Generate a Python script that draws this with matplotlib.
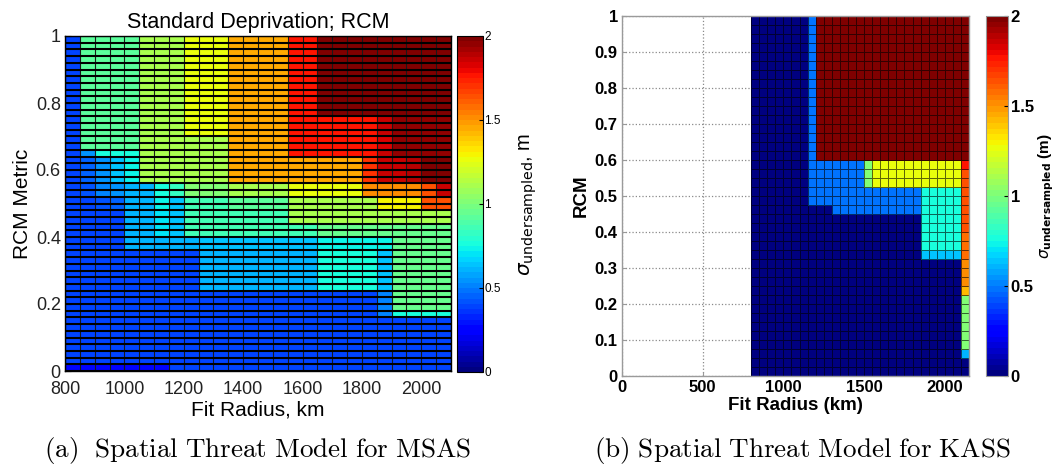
import numpy as np
import matplotlib
matplotlib.use('Agg')
import matplotlib.pyplot as plt

plt.rcParams['font.family'] = ['Liberation Sans', 'DejaVu Sans']

# ---------------- data: left panel (MSAS) ----------------
left_x_edges = np.arange(800, 2101, 50)          # fit radius, km (26 cells)
left_y_edges = np.linspace(0, 1, 51)             # RCM metric (50 cells)
# bands from bottom: (number of rows, 26 column values)
left_bands = [
    (1,  [0.25]*7 + [0.38]*19),
    (7,  [0.38]*26),
    (1,  [0.40]*21 + [0.50] + [0.75]*4),
    (3,  [0.40]*21 + [0.50] + [0.95]*4),
    (6,  [0.40]*9 + [0.62]*8 + [0.75]*4 + [0.65] + [0.95]*4),
    (2,  [0.40]*4 + [0.62]*5 + [0.65]*8 + [0.72]*5 + [0.95]*4),
    (2,  [0.40]*4 + [0.62, 0.62, 0.70, 0.65] + [0.85]*9 + [0.95]*9),
    (2,  [0.40]*4 + [0.62, 0.62, 0.70, 0.65] + [0.85]*7 + [1.12]*11),
    (2,  [0.40, 0.40, 0.42, 0.45, 0.62, 0.62, 0.72, 0.65] + [0.85]*3 + [0.93]*4
         + [1.12]*6 + [1.30]*3 + [1.65]*2),
    (2,  [0.40, 0.42, 0.50, 0.55, 0.62, 0.62, 0.75, 0.82] + [1.0]*3 + [1.1]*4
         + [1.25]*5 + [1.50]*4 + [1.65, 1.85]),
    (4,  [0.40, 0.45, 0.55, 0.65, 0.72] + [1.1]*3 + [1.12]*3 + [1.45]*9 + [1.70]
         + [1.85, 1.85, 1.90] + [1.98]*2),
    (1,  [0.40, 0.55, 0.75, 0.75, 0.75] + [1.1]*3 + [1.12]*3 + [1.45]*4 + [1.75]*6
         + [1.85] + [1.95]*4),
    (2,  [0.40] + [0.93]*4 + [1.1]*3 + [1.12]*3 + [1.45]*4 + [1.75]*6 + [1.82] + [1.95]*4),
    (3,  [0.40] + [0.93]*4 + [1.1]*3 + [1.25]*3 + [1.45]*4 + [1.75]*6 + [1.85] + [1.95]*4),
    (12, [0.40] + [0.93]*4 + [1.1]*3 + [1.25]*3 + [1.45]*4 + [1.75]*2 + [1.98]*9),
]

# ---------------- data: right panel (KASS) ----------------
right_x_edges = np.arange(800, 2151, 50)         # 27 cells
right_y_edges = np.linspace(0, 1, 41)            # 40 cells
right_bands = [
    (2,  [0.0]*27),
    (1,  [0.0]*26 + [0.60]),
    (6,  [0.0]*26 + [1.00]),
    (1,  [0.0]*26 + [1.42]),
    (3,  [0.0]*26 + [1.52]),
    (1,  [0.0]*21 + [0.65]*5 + [1.58]),
    (2,  [0.0]*21 + [0.75]*5 + [1.58]),
    (2,  [0.0]*21 + [0.75]*5 + [1.65]),
    (1,  [0.0]*10 + [0.48]*11 + [0.75]*5 + [1.65]),
    (2,  [0.0]*7 + [0.48]*14 + [0.75]*5 + [1.65]),
    (2,  [0.0]*7 + [0.48]*7 + [1.0] + [1.25]*11 + [1.65]),
    (1,  [0.0]*7 + [0.48]*7 + [1.0] + [1.25]*11 + [1.75]),
    (16, [0.0]*7 + [0.48] + [2.0]*19),
]

left_xticks = [800, 1000, 1200, 1400, 1600, 1800, 2000]
left_yticks = [0, 0.2, 0.4, 0.6, 0.8, 1]
left_yticklabels = ['0', '0.2', '0.4', '0.6', '0.8', '1']
right_xticks = [0, 500, 1000, 1500, 2000]
right_yticks = [0, 0.1, 0.2, 0.3, 0.4, 0.5, 0.6, 0.7, 0.8, 0.9, 1]
right_yticklabels = ['0', '0.1', '0.2', '0.3', '0.4', '0.5', '0.6', '0.7', '0.8', '0.9', '1']
cbar_ticks = [0, 0.5, 1, 1.5, 2]
cbar_ticklabels = ['0', '0.5', '1', '1.5', '2']


def build(bands):
    rows = []
    for n, vals in bands:
        rows.extend([vals] * n)
    return np.array(rows, dtype=float)


Z_left = build(left_bands)
Z_right = build(right_bands)

cmap = plt.get_cmap('jet', 64)
W, H = 1062, 470
fig = plt.figure(figsize=(W / 100, H / 100), dpi=100)


def rect(x0, y0, x1, y1):
    return [x0 / W, 1 - y1 / H, (x1 - x0) / W, (y1 - y0) / H]


# ---------------- left panel ----------------
ax1 = fig.add_axes(rect(65, 36, 451, 371))
m1 = ax1.pcolormesh(left_x_edges, left_y_edges, Z_left, cmap=cmap, vmin=0, vmax=2,
                    edgecolors='none')
ax1.vlines(left_x_edges, 0, 1, colors='#1a1a1a', lw=0.8)
ax1.hlines(left_y_edges, 800, 2100, colors='k', lw=1.5)
ax1.set_xlim(800, 2100)
ax1.set_ylim(0, 1)
ax1.set_xticks(left_xticks)
ax1.set_xticklabels([str(v) for v in left_xticks])
ax1.set_yticks(left_yticks)
ax1.set_yticklabels(left_yticklabels)
ax1.tick_params(direction='in', length=4, labelsize=13, colors='k', pad=3)
ax1.tick_params(axis='x', pad=7)
for tl in ax1.get_xticklabels() + ax1.get_yticklabels():
    tl.set_color('#222222')
ax1.set_title('Standard Deprivation; RCM', fontsize=15.5, pad=6)
ax1.set_xlabel('Fit Radius, km', fontsize=15, labelpad=2)
ax1.set_ylabel('RCM Metric', fontsize=15, labelpad=3)
for s in ax1.spines.values():
    s.set_linewidth(1.0)

cax1 = fig.add_axes(rect(457, 36, 483, 372))
cb1 = fig.colorbar(m1, cax=cax1)
cb1.set_ticks(cbar_ticks)
cb1.set_ticklabels(cbar_ticklabels)
cb1.ax.tick_params(labelsize=8.5, direction='in', length=3, pad=1)
cb1.set_label(r'$\sigma_{\mathrm{undersampled}}$, m', fontsize=14.5, labelpad=12)
cb1.outline.set_linewidth(0.8)

# ---------------- right panel ----------------
ax2 = fig.add_axes(rect(622, 16, 969, 376))
m2 = ax2.pcolormesh(right_x_edges, right_y_edges, Z_right, cmap=cmap, vmin=0, vmax=2,
                    edgecolors=(0, 0, 0, 0.6), linewidth=0.5)
ax2.set_xlim(0, 2150)
ax2.set_ylim(0, 1)
ax2.set_axisbelow(True)
ax2.grid(True, linestyle=':', color='#8a8a8a', linewidth=0.9)
ax2.set_xticks(right_xticks)
ax2.set_xticklabels([str(v) for v in right_xticks])
ax2.set_yticks(right_yticks)
ax2.set_yticklabels(right_yticklabels)
ax2.tick_params(direction='in', length=3, labelsize=12, colors='#9a9a9a',
                labelcolor='k', pad=3)
for tl in ax2.get_xticklabels() + ax2.get_yticklabels():
    tl.set_fontweight('bold')
ax2.set_xlabel('Fit Radius (km)', fontsize=13.5, fontweight='bold', labelpad=1)
ax2.set_ylabel('RCM', fontsize=13.5, fontweight='bold', labelpad=4)
for s in ax2.spines.values():
    s.set_color('#9a9a9a')
    s.set_linewidth(1.0)

cax2 = fig.add_axes(rect(986, 16, 1008, 376))
cb2 = fig.colorbar(m2, cax=cax2)
cb2.set_ticks(cbar_ticks)
cb2.set_ticklabels(cbar_ticklabels)
cb2.ax.tick_params(labelsize=12, direction='in', length=3, pad=2)
for tl in cb2.ax.get_yticklabels():
    tl.set_fontweight('bold')
cb2.set_label(r'$\sigma_{\bf undersampled}$ (m)', fontsize=11, fontweight='bold', labelpad=2)
cb2.outline.set_edgecolor('#9a9a9a')

# ---------------- captions ----------------
fig.text(258 / W, 1 - 451 / H, r'$\mathrm{(a)\ \ Spatial\ Threat\ Model\ for\ MSAS}$',
         ha='center', va='center', fontsize=19.5, math_fontfamily='cm')
fig.text(802 / W, 1 - 451 / H, r'$\mathrm{(b)\ Spatial\ Threat\ Model\ for\ KASS}$',
         ha='center', va='center', fontsize=19.5, math_fontfamily='cm')

fig.savefig('out.png', dpi=100)
